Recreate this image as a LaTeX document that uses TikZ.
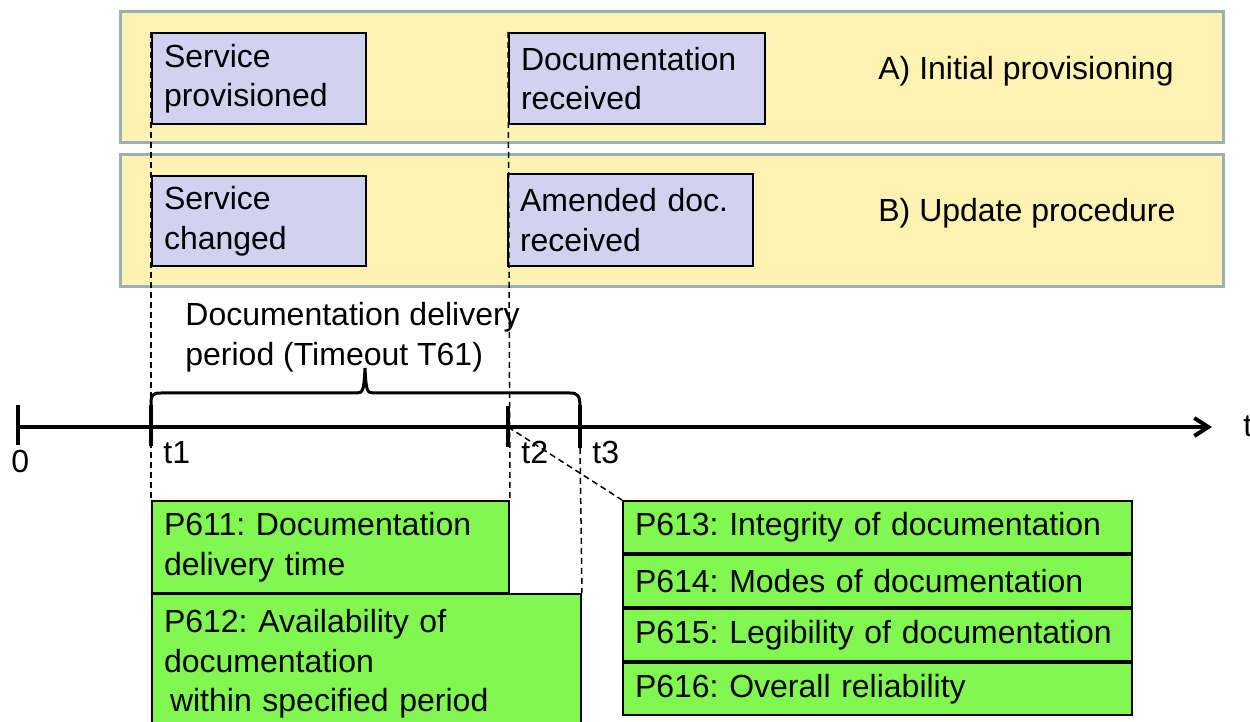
\documentclass[tikz,border=0pt]{standalone}
\usepackage{fontspec}
\setmainfont{Liberation Sans}
\usetikzlibrary{positioning,arrows.meta}
\definecolor{bandfill}{RGB}{255,242,178}
\definecolor{bandline}{RGB}{156,176,176}
\definecolor{evtfill}{RGB}{210,210,240}
\definecolor{kpifill}{RGB}{128,248,80}
\frenchspacing

\begin{document}
\begin{tikzpicture}[x=0.5pt,y=-0.5pt,
        font=\fontsize{16}{19.75}\selectfont,
        band/.style={draw=bandline,line width=1.5pt,fill=bandfill},
        evt/.style={draw,line width=1pt,fill=evtfill,anchor=north west,
                    align=left,inner xsep=6pt,inner ysep=0pt},
        kpi/.style={draw,line width=1pt,fill=kpifill,anchor=north west,
                    align=left,inner xsep=6pt,inner ysep=0pt},
        kpirow/.style={kpi,text width=242.5pt,minimum height=26pt},
        lbl/.style={inner sep=0pt},
        guide/.style={line width=0.75pt,dash pattern=on 3pt off 2pt},
        tickmark/.style={line width=2pt}]
            \useasboundingbox (0,0) rectangle (1250,722);
            \clip (0,0) rectangle (1250,722);
            \draw[band] (120,12) rectangle (1223,143);
            \draw[band] (120,155) rectangle (1223,287);
            \node[lbl,anchor=base west] (labA) at (878,80) {A) Initial provisioning};
            \node[lbl,anchor=base west] (labB) at (878,222) {B) Update procedure};
            \node[evt,text width=95pt,minimum height=45.5pt] (svcprov) at (151,32) {Service\\provisioned};
            \node[evt,text width=116pt,minimum height=45.5pt] (docrecv) at (508,32) {Documentation\\received};
            \node[evt,text width=95pt,minimum height=45pt] (svcchg) at (151,175) {Service\\changed};
            \node[evt,text width=110.5pt,minimum height=46pt] (amdrecv) at (507,173) {Amended doc.\\received};
            \node[kpi,text width=166.5pt,minimum height=46pt] (p611) at (151,500) {P611: Documentation\\delivery time};
            \node[kpi,text width=202.5pt,minimum height=70pt] (p612) at (151,593) {P612: Availability of\\documentation\\\hspace*{3pt}within specified period};
            \node[kpirow] (p613) at (622,500) {P613: Integrity of documentation};
            \node[kpirow,below=0pt of p613] (p614) {P614: Modes of documentation};
            \node[kpirow,below=0pt of p614] (p615) {P615: Legibility of documentation};
            \node[kpirow,below=0pt of p615] (p616) {P616: Overall reliability};
            \coordinate (o) at (18,427);
            \coordinate (t2) at (508,427);
            \coordinate (t3) at (580,448);
            \coordinate (tend) at (1212,427);
            \draw[guide] (svcprov.north west) -- (p611.north west);
            \draw[guide] (docrecv.north west) -- (p611.north east);
            \draw[guide] (t3) -- (p612.north east);
            \draw[guide] (t2) -- (p613.north west);
            \draw[line width=2pt,-{Straight Barb[length=7pt,width=9pt]}] (o) -- (tend);
            \foreach \x/\a/\b in {18/405/445,151/405/446,508/406/447,580/405/448}
                \draw[tickmark] (\x,\a) -- (\x,\b);
            \draw[line width=1.5pt] (151,405) .. controls (151,395) and (152,393) .. (161,393)
                -- (357,393) .. controls (363,393) and (364,390) .. (365,368)
                .. controls (366,390) and (367,393) .. (373,393) -- (570,393)
                .. controls (578,393) and (580,396) .. (580,407);
            \node[lbl,anchor=west,align=left] (period) at (185,337) {Documentation delivery\\period (Timeout T61)};
            \node[lbl,anchor=base west] (zero) at (11,473) {0};
            \node[lbl,anchor=base west] (lt1) at (163,463) {t1};
            \node[lbl,anchor=base west] (lt2) at (521,463) {t2};
            \node[lbl,anchor=base west] (lt3) at (592,463) {t3};
            \node[lbl,anchor=base west] (lt) at (1243,437) {t};
        \end{tikzpicture}
\end{document}
